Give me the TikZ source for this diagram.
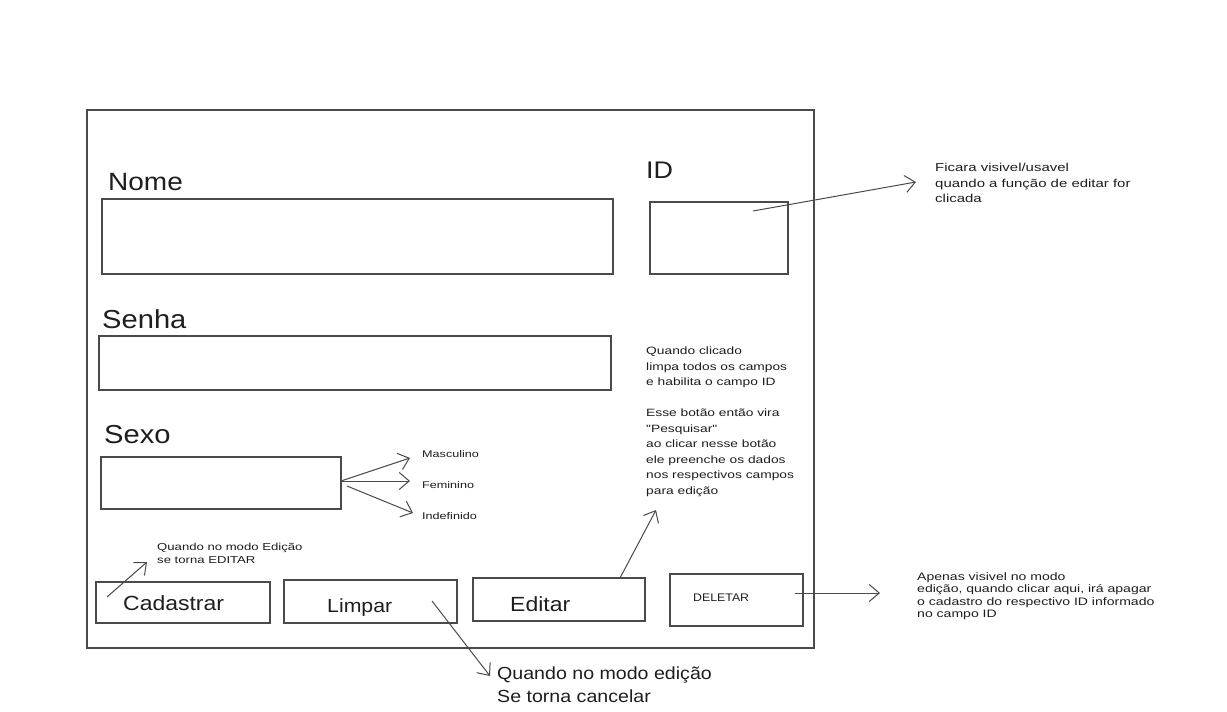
\documentclass[tikz,border=0pt]{standalone}
\usepackage{fontspec}
\setmainfont[FakeStretch=1.12]{Liberation Sans}
\newfontfamily\handwide[FakeStretch=1.3]{Liberation Sans}
\usetikzlibrary{arrows.meta}
\definecolor{ink}{HTML}{1E1E1E}
\definecolor{edge}{HTML}{4A4A4A}
\begin{document}
\begin{tikzpicture}[x=1pt,y=-1pt,
  box/.style={draw=edge, line width=1.1pt, inner sep=0pt, outer sep=0pt, anchor=north west},
  lbl/.style={anchor=base west, inner sep=0pt, text=ink},
  note/.style={anchor=north west, inner sep=0pt, align=left, text=ink},
  arr/.style={draw=edge, line width=1pt, -{Straight Barb[length=10pt,width=17pt]}},
]
\fill[white] (0,0) rectangle (1227,712);
\useasboundingbox (0,0) rectangle (1227,712);

% frame
\node[box, minimum width=727pt, minimum height=538pt] (frame) at (87,110) {};

% fields
\node[lbl, font=\fontsize{25}{30}\selectfont] (nomel) at (108,190) {Nome};
\node[box, minimum width=511pt, minimum height=75pt] (nome) at (102,199) {};
\node[lbl, font=\fontsize{24}{28}\selectfont] (idl) at (646,178) {ID};
\node[box, minimum width=138pt, minimum height=72pt] (id) at (650,202) {};
\node[lbl, font=\fontsize{26}{30}\selectfont] (senhal) at (102,328) {Senha};
\node[box, minimum width=512pt, minimum height=54pt] (senha) at (99,336) {};
\node[lbl, font=\fontsize{26}{30}\selectfont] (sexol) at (104,443) {Sexo};
\node[box, minimum width=240pt, minimum height=52pt] (sexo) at (101,457) {};

% sexo options
\node[lbl, font=\handwide\fontsize{9.7}{13}\selectfont] (masc) at (422,457) {Masculino};
\node[lbl, font=\handwide\fontsize{9.7}{13}\selectfont] (fem) at (422,488) {Feminino};
\node[lbl, font=\handwide\fontsize{9.7}{13}\selectfont] (indef) at (422,519) {Indefinido};
\coordinate (sx1) at (341,481);
\coordinate (sx2) at (347,486);
\coordinate (mh) at (410,458);
\coordinate (fh) at (410,481);
\coordinate (ih) at (413,513);
\draw[arr] (sx1) -- (mh);
\draw[arr] (sx1) -- (fh);
\draw[arr] (sx2) -- (ih);

% buttons
\node[box, minimum width=174pt, minimum height=41pt] (cad) at (96,582) {};
\node[box, minimum width=173pt, minimum height=43pt] (limp) at (284,580) {};
\node[box, minimum width=172pt, minimum height=43pt] (edit) at (473,578) {};
\node[box, minimum width=133pt, minimum height=52pt] (del) at (670,574) {};
\node[lbl, font=\fontsize{20.5}{24}\selectfont] (cadl) at (123,610) {Cadastrar};
\node[lbl, font=\fontsize{19}{24}\selectfont] (limpl) at (327,612) {Limpar};
\node[lbl, font=\fontsize{20.5}{24}\selectfont] (editl) at (510,611) {Editar};
\node[lbl, font=\fontsize{11}{13}\selectfont] (dell) at (693,601) {DELETAR};

% ID note
\coordinate (idtail) at (753,211);
\coordinate (idhead) at (916,182);
\draw[arr] (idtail) -- (idhead);
\node[note, font=\handwide\fontsize{11.5}{15.5}\selectfont] (ficara) at (935,163)
  {Ficara visivel/usavel\\quando a função de editar for\\clicada};

% Editar note
\node[note, font=\handwide\fontsize{10.6}{15.5}\selectfont] (clicado) at (646,347)
  {Quando clicado\\limpa todos os campos\\e habilita o campo ID\\ \mbox{}\\Esse botão então vira\\"Pesquisar"\\ao clicar nesse botão\\ele preenche os dados\\nos respectivos campos\\para edição};
\coordinate (edtail) at (620,578);
\coordinate (edhead) at (656,510);
\draw[arr] (edtail) -- (edhead);

% Cadastrar note
\node[note, font=\handwide\fontsize{10.1}{13}\selectfont] (cadnote) at (157,543)
  {Quando no modo Edição\\se torna EDITAR};
\coordinate (cadtail) at (107,597);
\coordinate (cadhead) at (147,562);
\draw[arr] (cadtail) -- (cadhead);

% Limpar note
\coordinate (limtail) at (432,601);
\coordinate (limhead) at (490,676);
\draw[arr] (limtail) -- (limhead);
\node[note, font=\fontsize{17.5}{23}\selectfont] (limnote) at (497,667)
  {Quando no modo edição\\Se torna cancelar};

% Deletar note
\coordinate (deltail) at (795,593);
\coordinate (delhead) at (880,593);
\draw[arr] (deltail) -- (delhead);
\node[note, font=\handwide\fontsize{10.8}{12.5}\selectfont] (delnote) at (917,572)
  {Apenas visivel no modo\\edição, quando clicar aqui, irá apagar\\o cadastro do respectivo ID informado\\no campo ID};
\end{tikzpicture}
\end{document}
